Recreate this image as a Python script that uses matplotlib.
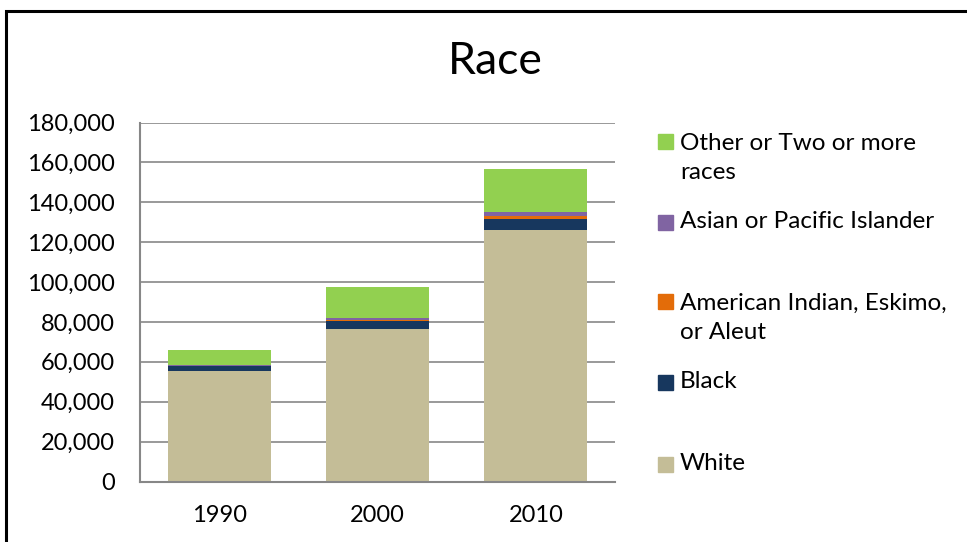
import matplotlib

matplotlib.use("Agg")
import matplotlib.pyplot as plt
from matplotlib.patches import Rectangle
from matplotlib.ticker import FuncFormatter

years = ["1990", "2000", "2010"]
white = [55200, 76700, 126300]
black = [2500, 4000, 5300]
am_indian = [250, 500, 1500]
asian = [300, 600, 1800]
other = [7500, 15600, 21800]

series = [
    ("White", white, "#c4bd97"),
    ("Black", black, "#17375e"),
    ("American Indian, Eskimo,\nor Aleut", am_indian, "#e36c09"),
    ("Asian or Pacific Islander", asian, "#8064a2"),
    ("Other or Two or more\nraces", other, "#92d050"),
]
# legend rows (top to bottom) and their figure y positions (pixels from top)
legend_order = [4, 3, 2, 1, 0]
legend_y = [158, 222, 318, 382, 464]

plt.rcParams["font.family"] = ["Lato", "DejaVu Sans"]

W, H = 967, 542
fig = plt.figure(figsize=(W / 100, H / 100), dpi=100)
ax = fig.add_axes([140 / W, 1 - 481.5 / H, 475 / W, (481.5 - 122.5) / H])

x = range(len(years))
bottom = [0] * len(years)
for name, vals, col in series:
    ax.bar(x, vals, width=0.65, bottom=bottom, color=col, zorder=2)
    bottom = [b + v for b, v in zip(bottom, vals)]

ax.set_xlim(-0.5, 2.5)
ax.set_ylim(0, 180000)
ax.set_yticks(range(0, 180001, 20000))
ax.yaxis.set_major_formatter(FuncFormatter(lambda v, p: f"{int(v):,}"))
ax.set_xticks(list(x))
ax.set_xticklabels(years)
ax.tick_params(length=0, labelsize=17, colors="black")
ax.tick_params(axis="y", pad=18)
ax.tick_params(axis="x", pad=17)
ax.yaxis.grid(True, color="#878787", linewidth=1.2, zorder=0)
for s in ("top", "right"):
    ax.spines[s].set_visible(False)
for s in ("left", "bottom"):
    ax.spines[s].set_color("#878787")
    ax.spines[s].set_linewidth(1.5)

fig.text(495 / W, 1 - 62 / H, "Race", fontsize=32, ha="center", va="center")

for i, yy in zip(legend_order, legend_y):
    name, _, col = series[i]
    nlines = name.count("\n") + 1
    top_line = yy - (nlines - 1) * 16.5
    fig.patches.append(Rectangle((658 / W, 1 - (top_line + 7.5) / H), 15 / W, 15 / H,
                                 transform=fig.transFigure, color=col))
    fig.text(680 / W, 1 - yy / H, name, fontsize=17.5, va="center", ha="left",
             linespacing=1.5)

# outer border
fig.patches.append(Rectangle((6 / W, -0.05), 1.1, 1 - 11 / H + 0.05, transform=fig.transFigure,
                             fill=False, edgecolor="black", linewidth=2.2))

fig.savefig("out.png", dpi=100)
